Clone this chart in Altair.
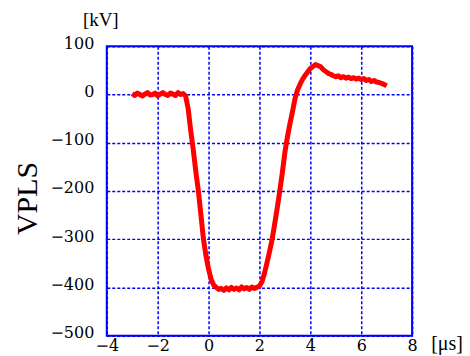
import altair as alt
import pandas as pd

time_us = [
    -3.0, -2.9, -2.8, -2.7, -2.6, -2.5, -2.4, -2.3, -2.2, -2.1,
    -2.0, -1.9, -1.8, -1.7, -1.6, -1.5, -1.4, -1.3, -1.2, -1.1,
    -1.0, -0.9, -0.8, -0.7, -0.6, -0.5, -0.4, -0.3, -0.2, -0.1,
    0.0, 0.1, 0.2, 0.3, 0.4, 0.5, 0.6, 0.7, 0.8, 0.9,
    1.0, 1.1, 1.2, 1.3, 1.4, 1.5, 1.6, 1.7, 1.8, 1.9,
    2.0, 2.1, 2.2, 2.3, 2.4, 2.5, 2.6, 2.7, 2.8, 2.9,
    3.0, 3.1, 3.2, 3.3, 3.4, 3.5, 3.6, 3.7, 3.8, 3.9,
    4.0, 4.1, 4.2, 4.3, 4.4, 4.5, 4.6, 4.7, 4.8, 4.9,
    5.0, 5.1, 5.2, 5.3, 5.4, 5.5, 5.6, 5.7, 5.8, 5.9,
    6.0, 6.1, 6.2, 6.3, 6.4, 6.5, 6.6, 6.7, 6.8, 6.9,
    7.0,
]

vpls_kv = [
    2, -2, 3, 0, -3, 1, 4, -1, 0, 3,
    -3, 1, 4, 0, -2, 3, 1, -2, 4, 0,
    2, -3, -30, -75, -115, -160, -200, -250, -300, -335,
    -362, -383, -395, -400, -404, -402, -406, -401, -405, -400,
    -404, -401, -405, -399, -403, -400, -404, -399, -402, -400,
    -397, -388, -370, -348, -325, -300, -268, -235, -200, -162,
    -120, -88, -60, -35, -8, 10, 22, 32, 40, 47,
    54, 58, 62, 60, 58, 52, 48, 44, 42, 39,
    37, 39, 35, 37, 34, 36, 33, 35, 32, 34,
    31, 33, 29, 31, 27, 29, 26, 25, 23, 21,
    18,
]

x_ticks = [-4, -2, 0, 2, 4, 6, 8]
y_ticks = [-500, -400, -300, -200, -100, 0, 100]

df = pd.DataFrame({"t": time_us, "v": vpls_kv})

serif = "Liberation Serif"
lab_font = "DejaVu Serif"

line = alt.Chart(df).mark_line(color="#ff0000", strokeWidth=5, strokeJoin="round").encode(
    x=alt.X(
        "t:Q",
        scale=alt.Scale(domain=[-4, 8], nice=False),
        axis=alt.Axis(
            values=x_ticks,
            title=None,
            grid=True,
            gridColor="#0000ff",
            gridDash=[3, 2],
            gridWidth=1.5,
            domain=False,
            ticks=False,
            labelFont=lab_font,
            labelFontSize=16,
            labelColor="black",
            labelPadding=2,
            labelBaseline="top",
            labelFlush=False,
        ),
    ),
    y=alt.Y(
        "v:Q",
        scale=alt.Scale(domain=[-500, 100], nice=False),
        axis=alt.Axis(
            values=y_ticks,
            title="VPLS",
            titleFont=serif,
            titleFontSize=30,
            titleFontWeight="normal",
            titleColor="black",
            titleX=-70,
            titleY=152,
            titleBaseline="alphabetic",
            titleAngle=-90,
            grid=True,
            gridColor="#0000ff",
            gridDash=[3, 2],
            gridWidth=1.5,
            domain=False,
            ticks=False,
            labelFont=lab_font,
            labelFontSize=16,
            labelColor="black",
            labelPadding=13,
            labelOffset=-3,
            labelFlush=False,
        ),
    ),
)

kv = alt.Chart(pd.DataFrame({"label": ["[kV]"]})).mark_text(
    font=serif, fontSize=19, color="black", align="center", baseline="alphabetic"
).encode(text="label:N", x=alt.value(-6), y=alt.value(-20))

us = alt.Chart(pd.DataFrame({"label": ["[μs]"]})).mark_text(
    font=serif, fontSize=20, color="black", align="center", baseline="alphabetic"
).encode(text="label:N", x=alt.value(341), y=alt.value(304))

chart = (
    alt.layer(line, kv, us)
    .properties(
        width=306,
        height=290,
        autosize=alt.AutoSizeParams(type="none"),
        padding={"left": 99, "top": 38, "right": 50, "bottom": 20},
        background="white",
    )
    .configure_view(stroke="#0000ff", strokeWidth=2)
)

chart.save("out.html", embed_options={"renderer": "svg", "actions": False})
